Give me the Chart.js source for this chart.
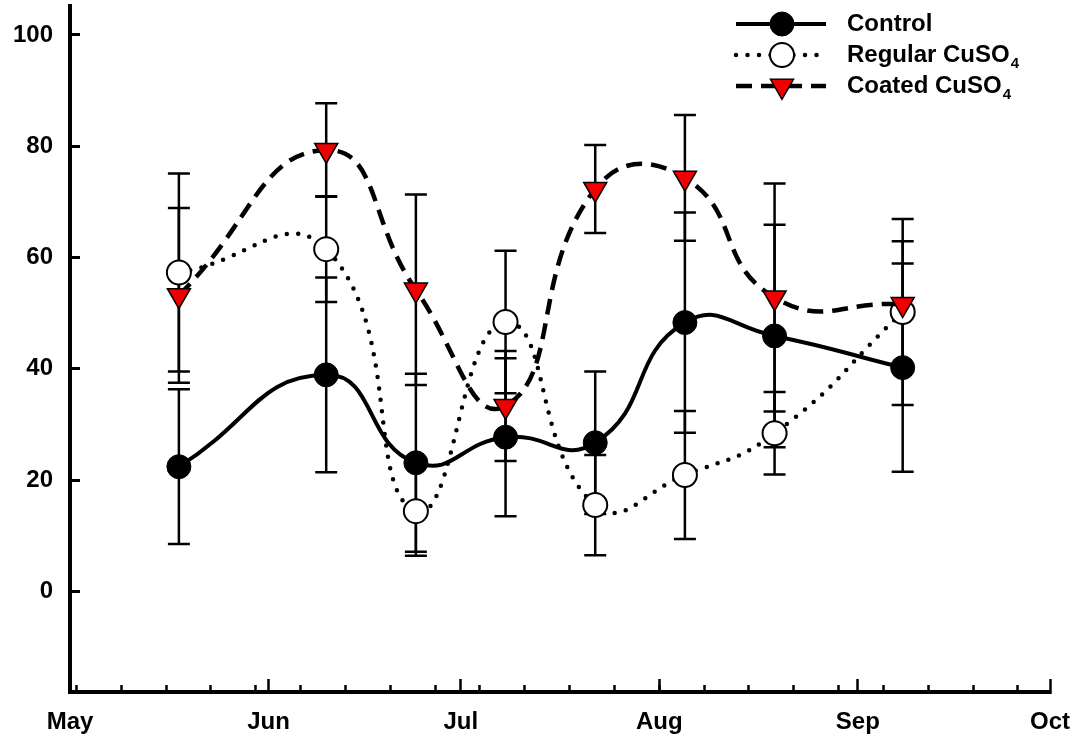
<!DOCTYPE html>
<html>
<head>
<meta charset="utf-8">
<script src="https://cdn.jsdelivr.net/npm/chart.js@4.4.1/dist/chart.umd.min.js"></script>
<style>
  html, body { margin: 0; padding: 0; background: #fff; }
  #wrap { width: 1073px; height: 742px; }
</style>
</head>
<body>
<div id="wrap"><canvas id="chart" width="1073" height="742"></canvas></div>
<script>
// sampling dates (2010 season)
const sampleDates = ["2010-05-18", "2010-06-10", "2010-06-24", "2010-07-08", "2010-07-22", "2010-08-05", "2010-08-19", "2010-09-08"];

// means and error bars
const controlMean = [22.4, 38.9, 23.1, 27.7, 26.7, 48.3, 45.9, 40.2];
const controlErr = [13.9, 17.5, 16.0, 14.2, 12.8, 19.8, 20.0, 18.7];
const regularMean = [57.3, 61.5, 14.4, 48.4, 15.5, 20.9, 28.4, 50.2];
const regularErr = [17.8, 9.5, 8.0, 12.8, 9.0, 11.5, 7.4, 16.7];
const coatedMean = [53.2, 79.3, 54.2, 33.3, 72.3, 74.3, 52.8, 51.6];
const coatedErr = [15.7, 8.4, 17.1, 9.9, 7.9, 11.3, 20.5, 11.3];

// axis ticks
const monthLabels = ["May", "Jun", "Jul", "Aug", "Sep", "Oct"];
const monthStarts = ["2010-05-01", "2010-06-01", "2010-07-01", "2010-08-01", "2010-09-01", "2010-10-01"];
const firstSunday = "2010-05-02";
const yTicks = [0, 20, 40, 60, 80, 100];

const FONT = "'Liberation Sans', Arial, sans-serif";

// days since May 1
function dayNum(s) {
    const p = s.split("-").map(Number);
    return (Date.UTC(p[0], p[1] - 1, p[2]) - Date.UTC(2010, 4, 1)) / 86400000;
}
const xDays = sampleDates.map(dayNum);
const monthDays = monthStarts.map(dayNum);
const xMax = monthDays[monthDays.length - 1];
const weekDays = [];
for (let d = dayNum(firstSunday); d < xMax; d += 7) weekDays.push(d);

function pts(vals) {
    return vals.map((v, i) => ({ x: xDays[i], y: v }));
}

// keep the plot area fixed: no extra room for tick labels
function noPad(s) {
    s.paddingTop = 0;
    s.paddingBottom = 0;
    s.paddingLeft = 0;
    s.paddingRight = 0;
}

// === error bars, drawn under the lines and markers ===
const errorBars = {
    id: "errorBars",
    beforeDatasetsDraw(chart) {
        const ctx = chart.ctx;
        const xs = chart.scales.x;
        const ys = chart.scales.y;
        ctx.save();
        ctx.strokeStyle = "#000";
        ctx.lineWidth = 2.5;
        chart.data.datasets.forEach((ds) => {
            ds.data.forEach((p, i) => {
                const e = ds.errors[i];
                const px = xs.getPixelForValue(p.x);
                const top = ys.getPixelForValue(p.y + e);
                const bot = ys.getPixelForValue(p.y - e);
                ctx.beginPath();
                ctx.moveTo(px, top);
                ctx.lineTo(px, bot);
                ctx.moveTo(px - 11, top);
                ctx.lineTo(px + 11, top);
                ctx.moveTo(px - 11, bot);
                ctx.lineTo(px + 11, bot);
                ctx.stroke();
            });
        });
        ctx.restore();
    },
};

// === legend with line sample + marker, top right ===
const lineLegend = {
    id: "lineLegend",
    afterDraw(chart) {
        const ctx = chart.ctx;
        const rows = [
            { y: 24, text: "Control", sub: "" },
            { y: 55, text: "Regular CuSO", sub: "4" },
            { y: 86, text: "Coated CuSO", sub: "4" },
        ];
        chart.data.datasets.forEach((ds, i) => {
            const r = rows[i];
            ctx.save();
            ctx.strokeStyle = ds.borderColor;
            ctx.lineWidth = ds.borderWidth;
            ctx.lineCap = ds.borderCapStyle || "butt";
            ctx.setLineDash(ds.borderDash || []);
            ctx.beginPath();
            ctx.moveTo(736, r.y);
            ctx.lineTo(826, r.y);
            ctx.stroke();
            ctx.setLineDash([]);
            ctx.fillStyle = ds.pointBackgroundColor;
            ctx.strokeStyle = ds.pointBorderColor;
            ctx.lineWidth = ds.pointBorderWidth;
            const cx = 782;
            ctx.beginPath();
            if (ds.pointStyle === "triangle") {
                const rr = ds.pointRadius;
                ctx.moveTo(cx, r.y + rr);
                ctx.lineTo(cx - rr * Math.sqrt(3) / 2, r.y - rr / 2);
                ctx.lineTo(cx + rr * Math.sqrt(3) / 2, r.y - rr / 2);
                ctx.closePath();
            } else {
                ctx.arc(cx, r.y, ds.pointRadius, 0, Math.PI * 2);
            }
            ctx.fill();
            ctx.stroke();
            ctx.fillStyle = "#000";
            ctx.font = "bold 24px " + FONT;
            ctx.textBaseline = "middle";
            ctx.fillText(r.text, 847, r.y);
            if (r.sub) {
                const w = ctx.measureText(r.text).width;
                ctx.font = "bold 15px " + FONT;
                ctx.fillText(r.sub, 847 + w + 1, r.y + 9);
            }
            ctx.restore();
        });
    },
};

const ctx = document.getElementById("chart").getContext("2d");
new Chart(ctx, {
    type: "line",
    data: {
        datasets: [{
            label: "Control",
            data: pts(controlMean),
            errors: controlErr,
            borderColor: "#000",
            borderWidth: 4,
            tension: 0.5,
            pointStyle: "circle",
            pointRadius: 12,
            pointBackgroundColor: "#000",
            pointBorderColor: "#000",
            pointBorderWidth: 1,
            order: 2,
        }, {
            label: "Regular CuSO₄",
            data: pts(regularMean),
            errors: regularErr,
            borderColor: "#000",
            borderWidth: 4.5,
            borderDash: [0, 11.5],
            borderCapStyle: "round",
            tension: 0.5,
            pointStyle: "circle",
            pointRadius: 12,
            pointBackgroundColor: "#fff",
            pointBorderColor: "#000",
            pointBorderWidth: 2,
            order: 1,
        }, {
            label: "Coated CuSO₄",
            data: pts(coatedMean),
            errors: coatedErr,
            borderColor: "#000",
            borderWidth: 4.5,
            borderDash: [16, 9],
            tension: 0.5,
            pointStyle: "triangle",
            pointRotation: 180,
            pointRadius: 13.3,
            pointBackgroundColor: "#f00000",
            pointBorderColor: "#000",
            pointBorderWidth: 1.5,
            order: 0,
        }],
    },
    options: {
        responsive: false,
        animation: false,
        layout: { autoPadding: false, padding: { top: 6, right: 23, left: 0, bottom: 0 } },
        scales: {
            x2: {
                type: "linear",
                position: "bottom",
                weight: 0,
                min: 0,
                max: xMax,
                afterBuildTicks: (s) => { s.ticks = weekDays.map((v) => ({ value: v })); },
                afterFit: (s) => { s.height = 0; noPad(s); },
                ticks: { display: false },
                border: { display: false },
                grid: { drawOnChartArea: false, tickLength: -7, tickWidth: 2.5, tickColor: "#000" },
            },
            x: {
                type: "linear",
                position: "bottom",
                weight: 1,
                min: 0,
                max: xMax,
                afterBuildTicks: (s) => { s.ticks = monthDays.map((v) => ({ value: v })); },
                afterFit: (s) => { s.height = 50; noPad(s); },
                ticks: {
                    color: "#000",
                    font: { family: FONT, size: 24, weight: "bold" },
                    padding: 29,
                    maxRotation: 0,
                    autoSkip: false,
                    callback: (v) => monthLabels[monthDays.indexOf(v)],
                },
                border: { display: true, color: "#000", width: 4 },
                grid: { drawOnChartArea: false, tickLength: -13, tickWidth: 2.5, tickColor: "#000" },
            },
            y: {
                type: "linear",
                min: -18.1,
                max: 105.2,
                afterBuildTicks: (s) => { s.ticks = yTicks.map((v) => ({ value: v })); },
                afterFit: (s) => { s.width = 70; noPad(s); },
                ticks: {
                    color: "#000",
                    font: { family: FONT, size: 24, weight: "bold" },
                    padding: 27,
                },
                border: { display: true, color: "#000", width: 4 },
                grid: { drawOnChartArea: false, tickLength: -10, tickWidth: 3, tickColor: "#000" },
            },
        },
        plugins: {
            legend: { display: false },
            tooltip: { enabled: false },
        },
    },
    plugins: [errorBars, lineLegend],
});
</script>
</body>
</html>
